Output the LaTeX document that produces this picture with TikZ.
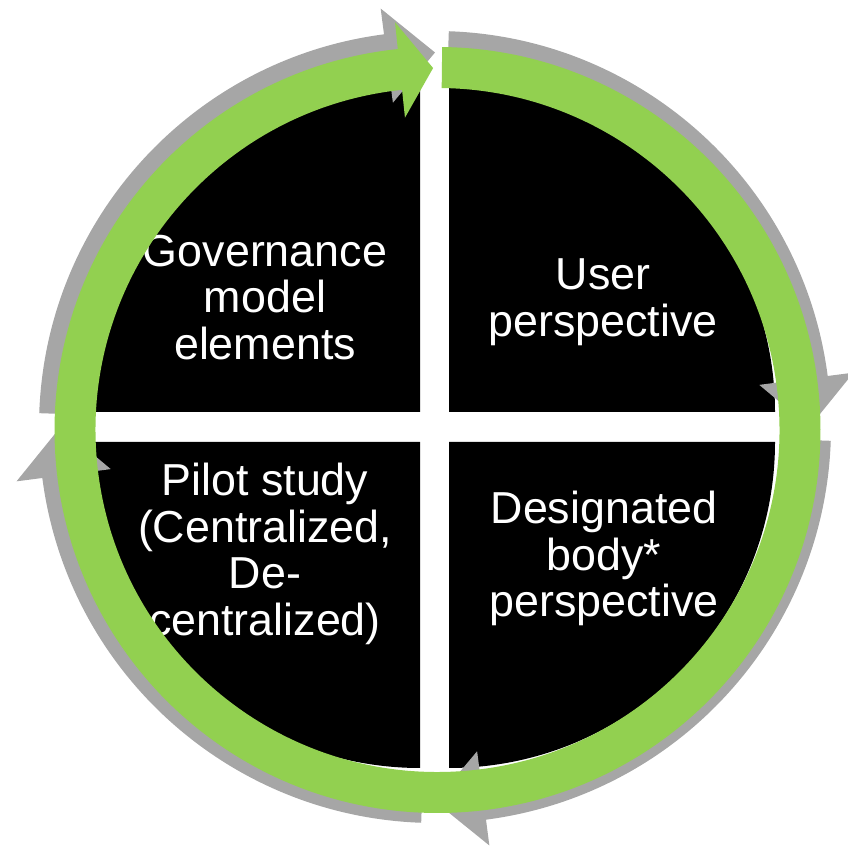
\documentclass[tikz,border=0pt]{standalone}
\usepackage{fontspec}
\setmainfont{Liberation Sans}
\usepackage{tikz}
\definecolor{grn}{HTML}{92D050}
\definecolor{gry}{HTML}{A6A6A6}

\begin{document}
\begin{tikzpicture}[x=0.02cm,y=0.02cm,
  quad/.style={fill=black},
  loop/.style={fill=gry},
  ring/.style={fill=grn},
  lbl/.style={text=white,align=center,inner sep=0pt,font=\fontsize{25.5}{26.6}\selectfont}]
\useasboundingbox (0,0) rectangle (848,848);
% black quarters
\fill [quad] (420,436) -- ++(180:326) arc[start angle=180,end angle=90,radius=326] -- cycle;
\fill [quad] (449,436) -- ++(90:326) arc[start angle=90,end angle=0,radius=326] -- cycle;
\fill [quad] (449,406) -- ++(0:326) arc[start angle=0,end angle=-90,radius=326] -- cycle;
\fill [quad] (420,406) -- ++(-90:326) arc[start angle=-90,end angle=-180,radius=326] -- cycle;
\node [lbl] (a) at (265,550.5) {Governance\\model\\elements};
\node [lbl] (b) at (603,545.5) {User\\perspective};
\node [lbl] (c) at (604,289.5) {Designated\\body*\\perspective};
\node [lbl] (d) at (265,294) {Pilot study\\(Centralized,\\De-\\centralized)};
% gray arrows
\begin{scope}[shift={(435,421)}]
\fill [loop] (88:396) arc[start angle=88,end angle=7.4,radius=396] -- (7.4:422) -- (0:374.5)
  -- (7.4:327) -- (7.4:353) arc[start angle=7.4,end angle=88,radius=353] -- cycle;
\fill [loop] (-2:396) arc[start angle=-2,end angle=-82.6,radius=396] -- (-82.6:422) -- (-90:374.5)
  -- (-82.6:327) -- (-82.6:353) arc[start angle=-82.6,end angle=-2,radius=353] -- cycle;
\fill [loop] (-92:396) arc[start angle=-92,end angle=-172.6,radius=396] -- (-172.6:422) -- (-180:374.5)
  -- (-172.6:327) -- (-172.6:353) arc[start angle=-172.6,end angle=-92,radius=353] -- cycle;
\fill [loop] (178:396) arc[start angle=178,end angle=97.4,radius=396] -- (97.4:422) -- (90:374.5)
  -- (97.4:327) -- (97.4:353) arc[start angle=97.4,end angle=178,radius=353] -- cycle;
\end{scope}
% green ring
\begin{scope}[shift={(437.5,418)}]
\fill [ring] (89.3:383) arc[start angle=89.3,end angle=-264.05,radius=383] -- (-264.05:410)
  -- (-269.3:362) -- (-264.05:314) -- (-264.05:342)
  arc[start angle=-264.05,end angle=89.3,radius=342] -- cycle;
\end{scope}
\end{tikzpicture}
\end{document}
